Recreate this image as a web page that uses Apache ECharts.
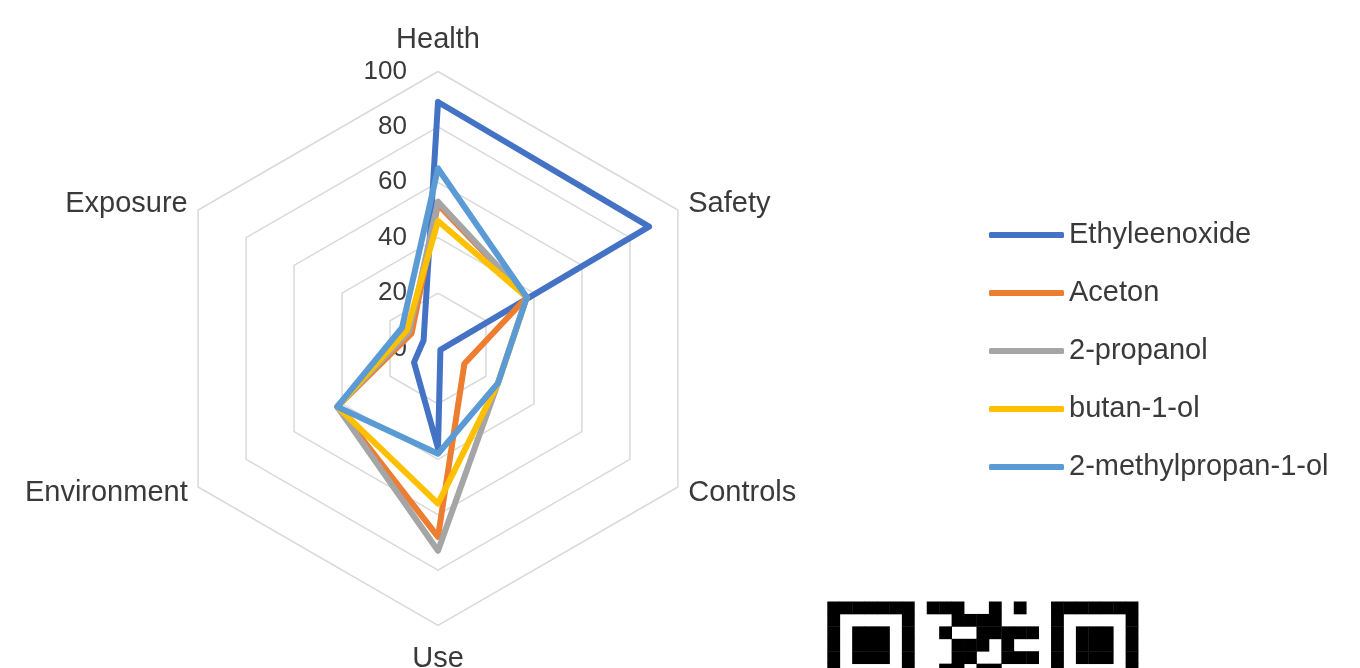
<!DOCTYPE html>
<html>
<head>
<meta charset="utf-8">
<title>Solvent hazard profile</title>
<script src="https://cdn.jsdelivr.net/npm/echarts@6/dist/echarts.min.js"></script>
<style>
  html, body { margin: 0; padding: 0; background: #ffffff; }
  #chart { width: 1360px; height: 668px; }
</style>
</head>
<body>
<div id="chart"></div>
<script>
// Criteria, in the order they are listed (clockwise from the top)
const criteria = ['Health', 'Safety', 'Controls', 'Use', 'Environment', 'Exposure'];

// Scores per solvent, same order as criteria
const ethyleenoxide     = [89, 88, 1, 36, 10, 6];
const aceton            = [52, 37, 11, 68, 42, 11];
const propan2ol         = [53, 37, 25, 73, 42, 12];
const butan1ol          = [46, 37, 25, 56, 42, 13];
const methylpropan1ol   = [65, 37, 25, 38, 42, 15];

const seriesNames  = ['Ethyleenoxide', 'Aceton', '2-propanol', 'butan-1-ol', '2-methylpropan-1-ol'];
const seriesValues = [ethyleenoxide, aceton, propan2ol, butan1ol, methylpropan1ol];
const seriesColors = ['#4472C4', '#ED7D31', '#A5A5A5', '#FFC000', '#5B9BD5'];

// Radial scale
const scaleMin = 0;
const scaleMax = 100;

// Square pattern in the lower right corner (top rows only, the rest lies off the page)
const codeRows = [
  '1111111011100101001111111',
  '1000001000111100001000001',
  '1011101001001111101011101',
  '1011101000111010001011101',
  '1011101000110011101011101',
  '1000001001101100001000001'
];

// ECharts lays radar indicators out counter-clockwise; reorder to run clockwise
const order = [0, 5, 4, 3, 2, 1];

const FONT = 'Liberation Sans, Arial, sans-serif';
const TEXT = '#3a3a3a';

const indicator = order.map(function (i, k) {
  const ind = { name: criteria[i], min: scaleMin, max: scaleMax };
  if (criteria[i] === 'Health') {
    ind.nameGap = 17;
    ind.axisLabel = {
      show: true,
      color: TEXT,
      fontFamily: FONT,
      fontSize: 26,
      margin: 31,
      padding: [4, 0, 0, 0]
    };
  }
  if (criteria[i] === 'Use') {
    ind.nameGap = 19;
  }
  return ind;
});

const radarData = seriesNames.map(function (name, s) {
  return {
    name: name,
    value: order.map(function (i) { return seriesValues[s][i]; }),
    symbol: 'none',
    itemStyle: { color: seriesColors[s] },
    lineStyle: { color: seriesColors[s], width: 6, join: 'round', cap: 'round' }
  };
});

const codeGraphics = [];
const cell = 12.43;
codeRows.forEach(function (row, r) {
  for (let c = 0; c < row.length; c++) {
    if (row[c] === '1') {
      codeGraphics.push({
        type: 'rect',
        left: 827.3 + c * cell,
        top: 601.5 + r * cell,
        shape: { width: cell + 0.4, height: cell + 0.4 },
        style: { fill: '#000000' },
        silent: true
      });
    }
  }
});

const chart = echarts.init(document.getElementById('chart'), null, { renderer: 'canvas' });

chart.setOption({
  backgroundColor: '#ffffff',
  animation: false,
  legend: {
    orient: 'vertical',
    left: 984,
    top: 215,
    icon: 'roundRect',
    itemWidth: 75,
    itemHeight: 6,
    itemGap: 28,
    data: seriesNames,
    textStyle: {
      color: TEXT,
      fontFamily: FONT,
      fontSize: 29,
      lineHeight: 30
    }
  },
  radar: {
    center: [438, 348.5],
    radius: 277,
    startAngle: 90,
    shape: 'polygon',
    splitNumber: 5,
    nameGap: 12,
    axisName: {
      color: TEXT,
      fontFamily: FONT,
      fontSize: 29
    },
    axisLine: { show: false },
    axisTick: { show: false },
    axisLabel: { show: false },
    splitArea: { show: false },
    splitLine: { lineStyle: { color: '#D9D9D9', width: 1.5 } },
    indicator: indicator
  },
  series: [{
    type: 'radar',
    symbol: 'none',
    data: radarData
  }],
  graphic: codeGraphics
});
</script>
</body>
</html>
